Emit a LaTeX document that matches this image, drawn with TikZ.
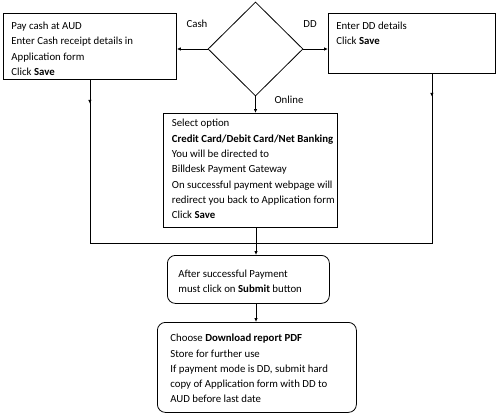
\documentclass[tikz,border=0pt]{standalone}
\usepackage{fontspec}
\setmainfont{Carlito}
\usetikzlibrary{shapes.geometric,arrows.meta}

% box text: width, height, indent, top gap, lines
\newcommand{\boxtext}[5]{\parbox[c][#2][t]{#1}{\raggedright\leftskip=#3\relax\vspace*{#4}\strut #5}}

\tikzset{
  stepbox/.style={draw, line width=0.8pt, rectangle, anchor=north west, inner sep=0pt,
    font=\fontsize{10.8}{15.3}\selectfont},
  roundbox/.style={stepbox, rounded corners=8pt},
  lbl/.style={font=\fontsize{10.8}{13}\selectfont},
  flow/.style={line width=0.8pt},
  arrow/.style={flow, -{Latex[length=4pt,width=3.5pt]}},
}

\begin{document}
\begin{tikzpicture}[x=1pt,y=-1pt]
  \useasboundingbox (0,0) rectangle (497,417);
  \node[draw, line width=0.8pt, diamond, minimum width=95pt, minimum height=94pt, inner sep=0pt] (choice) at (255.5,49) {};
  \node[stepbox] (cash) at (3,13) {\boxtext{173pt}{66pt}{8pt}{5.4pt}{Pay cash at AUD\\ Enter Cash receipt details in\\ Application form\\ Click \textbf{Save}}};
  \node[stepbox] (dd) at (328,13) {\boxtext{167pt}{60pt}{8pt}{5.4pt}{Enter DD details\\ Click \textbf{Save}}};
  \node[stepbox] (online) at (163,113) {\boxtext{174pt}{114pt}{8.5pt}{2.8pt}{Select option\\ \textbf{Credit Card/Debit Card/Net Banking}\\ You will be directed to\\ Billdesk Payment Gateway\\ On successful payment webpage will\\ redirect you back to Application form\\ Click \textbf{Save}}};
  \node[roundbox] (submit) at (167,255) {\boxtext{162pt}{48pt}{11pt}{11.4pt}{After successful Payment\\ must click on \textbf{Submit} button}};
  \node[roundbox] (report) at (157,322) {\boxtext{199pt}{90pt}{13pt}{8.6pt}{Choose \textbf{Download report PDF}\\ Store for further use\\ If payment mode is DD, submit hard\\ copy of Application form with DD to\\ AUD before last date}};
  \node[lbl] (cashlbl) at (197,24) {Cash};
  \node[lbl] (ddlbl) at (310,24) {DD};
  \node[lbl] (onlinelbl) at (289,100) {Online};

  \coordinate (join) at (256,243);
  \coordinate (ddleg) at ([xshift=20pt]dd.south);

  \draw[arrow] (choice.west) -- (choice.west -| cash.east);
  \draw[arrow] (choice.east) -- (choice.east -| dd.west);
  \draw[arrow] (choice.south) -- (choice.south |- online.north);
  \draw[flow] (cash.south) -- (cash.south |- join) -- (ddleg |- join) -- (ddleg);
  \draw[arrow] (cash.south) -- ++(0,24);
  \draw[arrow] (ddleg) -- ++(0,23);
  \draw[flow] (join |- online.south) -- (join);
  \draw[arrow] (join) -- (join |- submit.north);
  \draw[arrow] (join |- submit.south) -- (join |- report.north);
\end{tikzpicture}
\end{document}
